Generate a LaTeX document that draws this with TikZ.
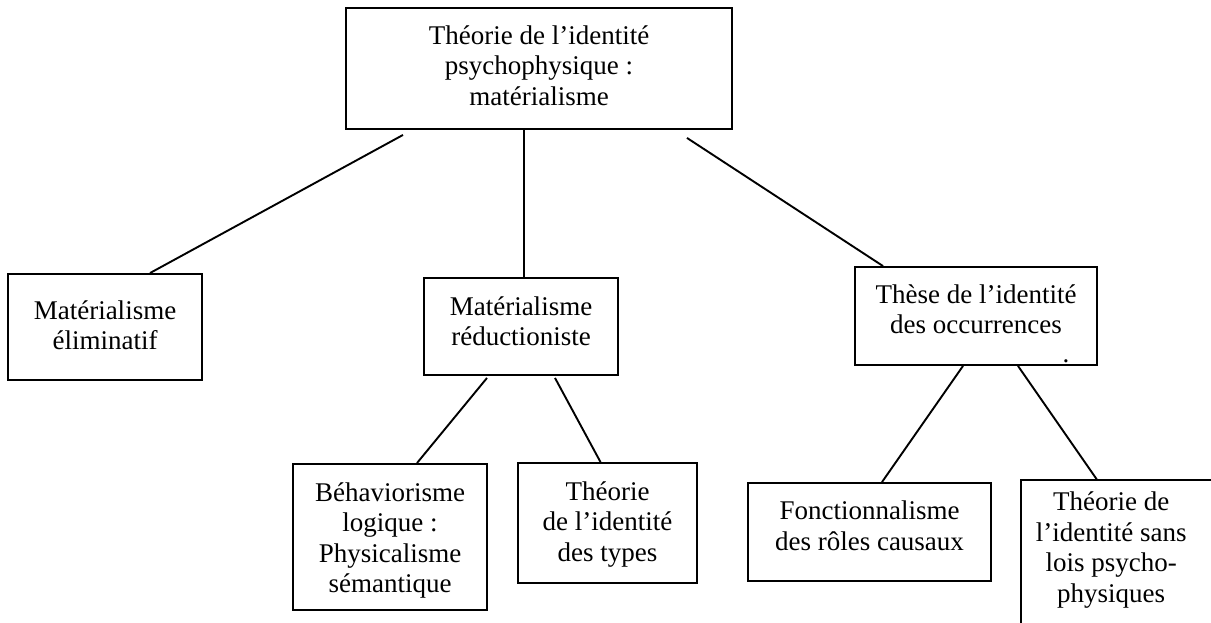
\documentclass[tikz,border=0pt]{standalone}
\usepackage{fontspec}
\setmainfont{Liberation Serif}
\usetikzlibrary{positioning}

\begin{document}
\begin{tikzpicture}[x=1pt, y=-1pt,
    box/.style={draw, rectangle, line width=1.9pt, inner sep=0pt},
    txt/.style={align=center, inner sep=0pt, font={\fontsize{27pt}{30.5pt}\selectfont}},
    link/.style={line width=1.9pt}]
        \useasboundingbox (0,0) rectangle (1211,623);

        \node (top) [box, minimum width=386pt, minimum height=121pt] at (539,68.5) {};
        \node (toptext) [txt, below=18pt of top.north] {Théorie de l’identité\\psychophysique :\\matérialisme};

        \node (elim) [box, minimum width=194pt, minimum height=106pt] at (105,327) {};
        \node (elimtext) [txt, below=27pt of elim.north] {Matérialisme\\éliminatif};

        \node (reduct) [box, minimum width=194pt, minimum height=97pt] at (521,326.5) {};
        \node (reducttext) [txt, below=19pt of reduct.north] {Matérialisme\\réductioniste};

        \node (these) [box, minimum width=242pt, minimum height=98pt] at (976,316) {};
        \node (thesetext) [txt, below=18pt of these.north] {Thèse de l’identité\\des occurrences};
        \node (dot) [txt, anchor=base] at (1066,362) {.};

        \node (behav) [box, minimum width=194pt, minimum height=146pt] at (390,537) {};
        \node (behavtext) [txt, below=19pt of behav.north] {Béhaviorisme\\logique :\\Physicalisme\\sémantique};

        \node (types) [box, minimum width=179pt, minimum height=120pt] at (607.5,523) {};
        \node (typestext) [txt, below=19pt of types.north] {Théorie\\de l’identité\\des types};

        \node (fonct) [box, minimum width=243pt, minimum height=98pt] at (869.5,532) {};
        \node (foncttext) [txt, below=19pt of fonct.north] {Fonctionnalisme\\des rôles causaux};

        \node (sans) [minimum width=190pt, minimum height=160pt, inner sep=0pt, anchor=north west] at (1021,480) {};
        \draw[link] (sans.south west) |- (sans.north east);
        \node (sanstext) [txt, below=12pt of sans.north, xshift=-5pt] {Théorie de\\l’identité sans\\lois psycho-\\physiques};

        \draw[link] ([xshift=-136pt,yshift=-5pt]top.south) -- ([xshift=45pt]elim.north);
        \draw[link] ([xshift=-15pt]top.south) -- ([xshift=3pt]reduct.north);
        \draw[link] ([xshift=148pt,yshift=-8pt]top.south) -- ([xshift=-93pt]these.north);
        \draw[link] ([xshift=-34pt,yshift=-2pt]reduct.south) -- ([xshift=27pt]behav.north);
        \draw[link] ([xshift=34pt,yshift=-2pt]reduct.south) -- ([xshift=-7pt]types.north);
        \draw[link] ([xshift=-13pt]these.south) -- ([xshift=12.5pt]fonct.north);
        \draw[link] ([xshift=42pt]these.south) -- ([xshift=-19pt]sans.north);
    \end{tikzpicture}
\end{document}
